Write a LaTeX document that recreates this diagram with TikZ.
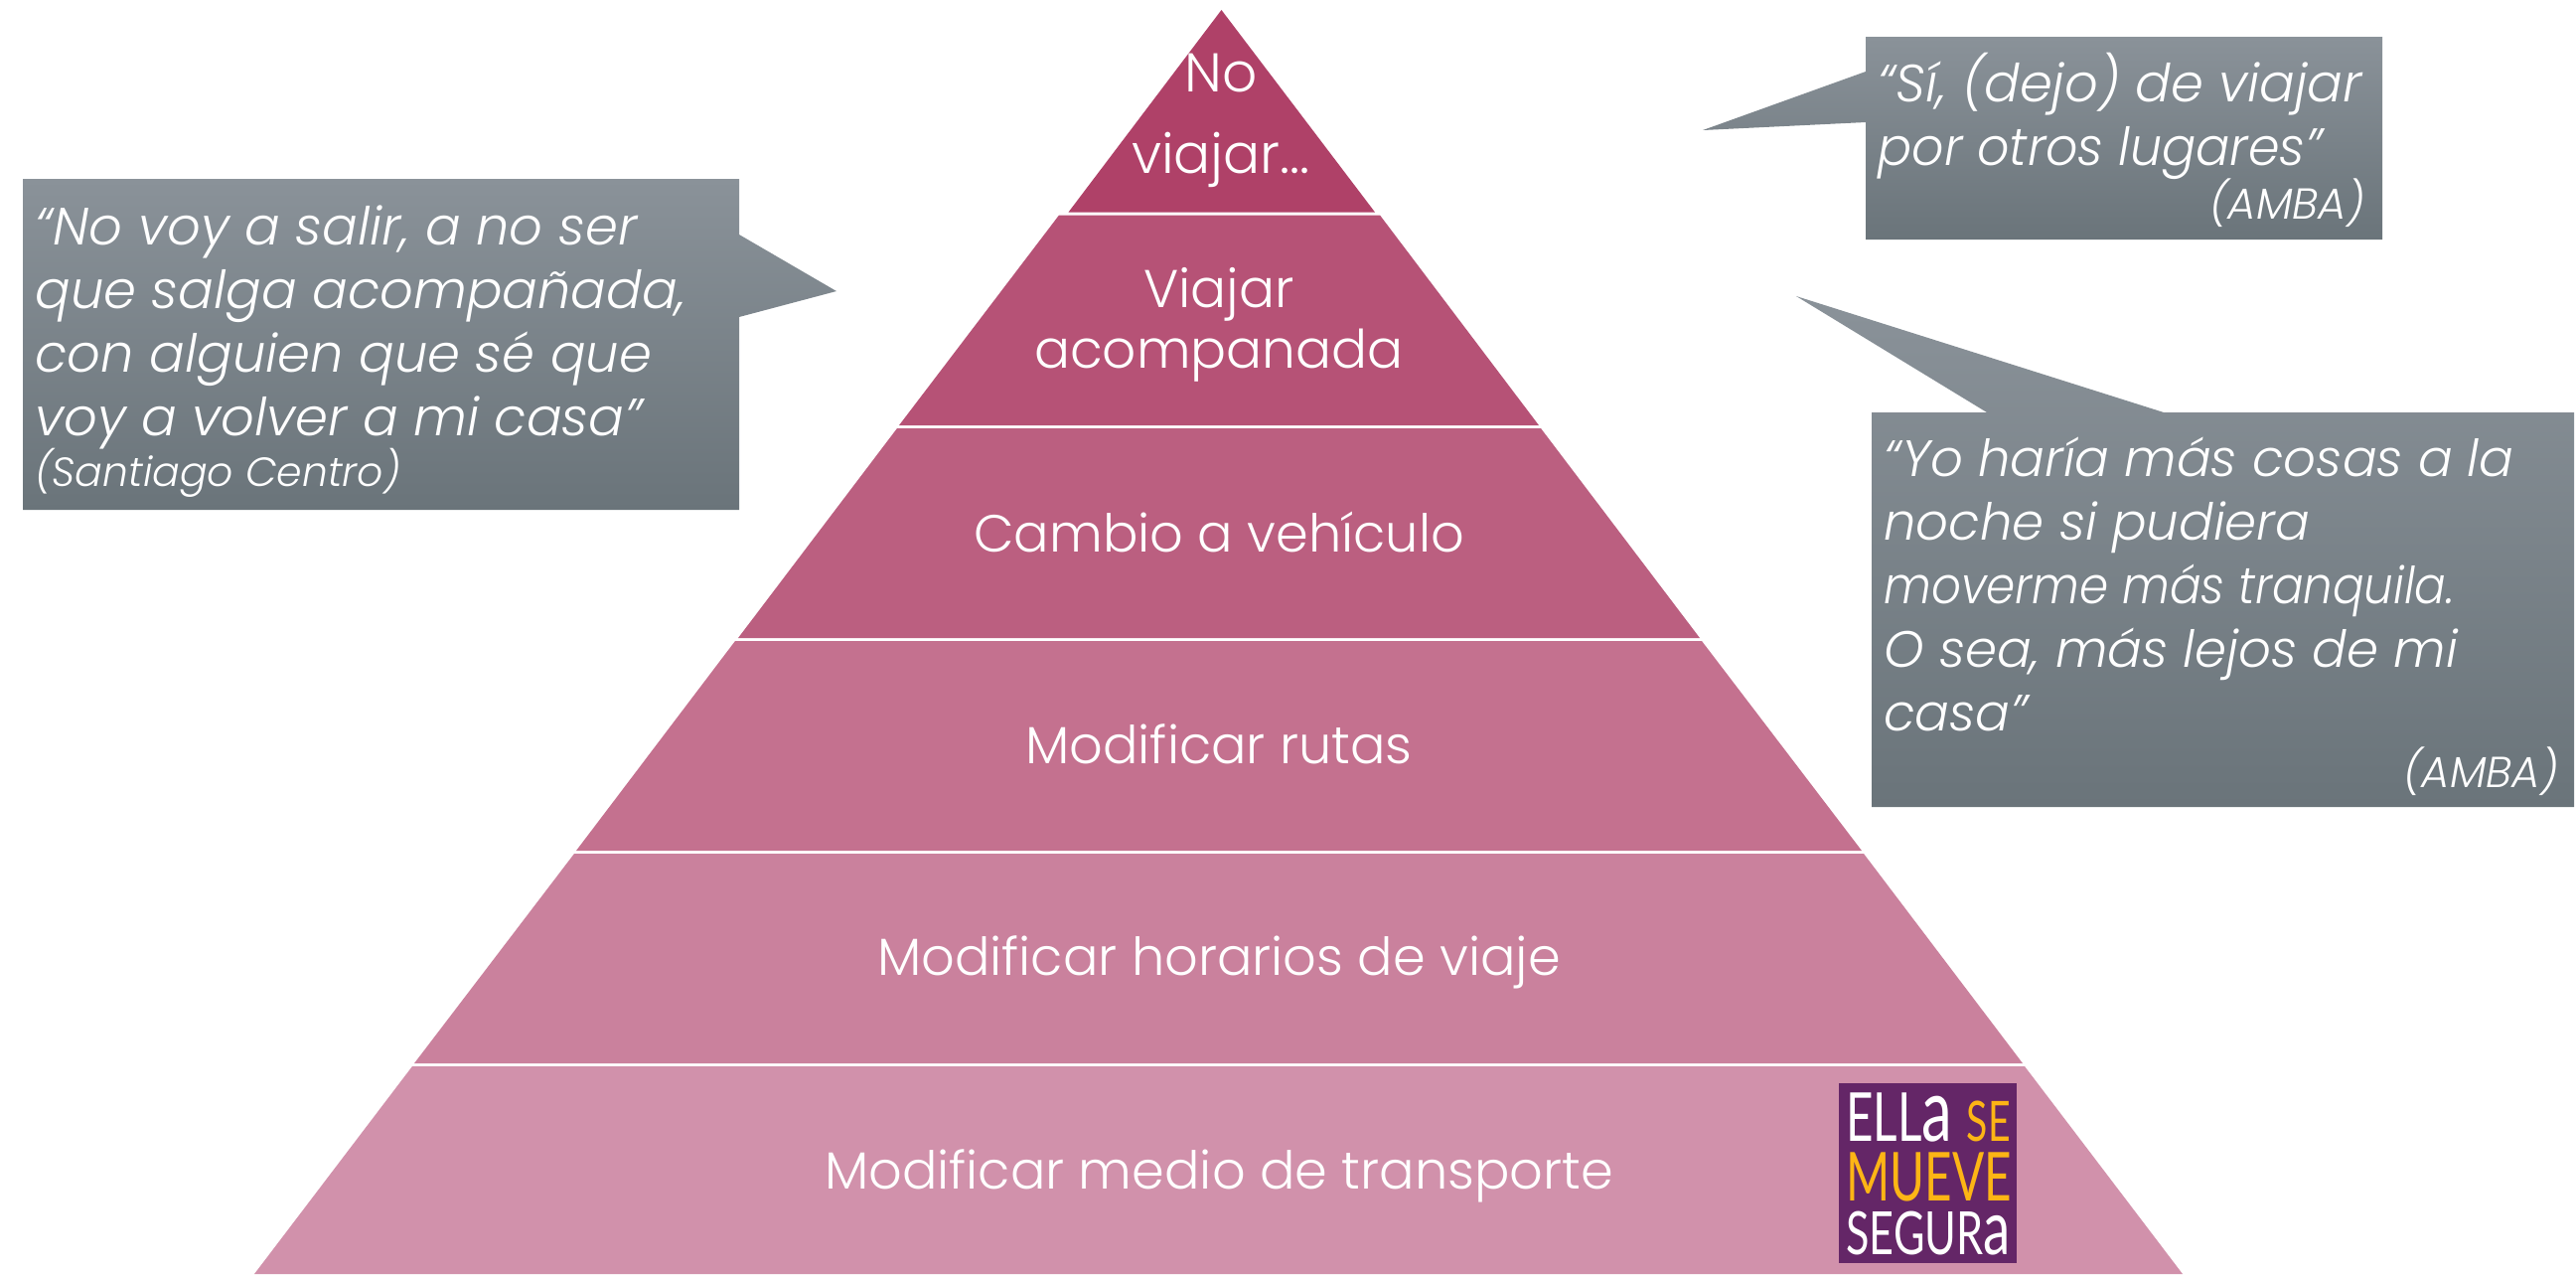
\documentclass[tikz,border=0pt]{standalone}
\usepackage{fontspec}
\setmainfont{Poppins Light}[ItalicFont={Poppins Light Italic}]
\newfontfamily\logofont{Lato}[FakeStretch=0.7]
\newfontfamily\logofontb{Lato}[FakeStretch=0.72]
\newfontfamily\narrowA{Poppins Light}[ItalicFont={Poppins Light Italic},ItalicFeatures={FakeStretch=0.91}]
\newfontfamily\narrowB{Poppins Light}[ItalicFont={Poppins Light Italic},ItalicFeatures={FakeStretch=0.96}]
\tikzset{
  x=0.5pt,y=-0.5pt,
  band/.style={draw=none},
  bandtext/.style={text=white,align=center,inner sep=0pt,font=\fontsize{26.3}{30.5}\selectfont},
  callout/.style={top color=#1,bottom color=calloutbottom,draw=none},
  quotetext/.style={text=white,align=left,inner sep=0pt,anchor=north west,font=\fontsize{26.4}{32}\selectfont\itshape},
  sourcetext/.style={text=white,inner sep=0pt,font=\fontsize{20.5}{24}\selectfont\itshape},
  logotext/.style={inner sep=0pt,anchor=base}
}
\definecolor{calloutbottom}{HTML}{6A747A}
\definecolor{callouttop}{HTML}{8A9299}
\definecolor{logobg}{HTML}{642667}
\definecolor{logoyellow}{HTML}{FDB515}
\begin{document}
\begin{tikzpicture}
\useasboundingbox (0,0) rectangle (2593,1282);
% pyramid bands
\fill[band,fill={rgb,255:red,175;green,65;blue,104}] (1229.5,10) -- (1384,213.5) -- (1075.5,213.5) -- cycle;
\fill[band,fill={rgb,255:red,182;green,82;blue,118}] (1066,216.5) -- (1389,216.5) -- (1549,428) -- (905,428) -- cycle;
\fill[band,fill={rgb,255:red,187;green,95;blue,128}] (903,431) -- (1551,431) -- (1711,642) -- (743,642) -- cycle;
\fill[band,fill={rgb,255:red,196;green,113;blue,143}] (740,645) -- (1713,645) -- (1874,856) -- (580,856) -- cycle;
\fill[band,fill={rgb,255:red,202;green,129;blue,157}] (578,859) -- (1876,859) -- (2036,1070) -- (417,1070) -- cycle;
\fill[band,fill={rgb,255:red,209;green,145;blue,171}] (415,1073) -- (2038,1073) -- (2197,1282) -- (256,1282) -- cycle;
% pyramid labels
\node[bandtext,font=\fontsize{27.5}{41}\selectfont] (l1) at (1229,121) {No\\viajar...};
\node[bandtext,font=\fontsize{26.7}{30.5}\selectfont] (l2) at (1227,327) {Viajar\\acompanada};
\node[bandtext] (l3) at (1227,535) {Cambio a vehículo};
\node[bandtext] (l4) at (1227,749) {Modificar rutas};
\node[bandtext] (l5) at (1227,968) {Modificar horarios de viaje};
\node[bandtext] (l6) at (1227,1183) {Modificar medio de transporte};
% callouts
\shade[callout=callouttop] (23,180) -- (744,180) -- (744,236) -- (842,293) -- (744,319) -- (744,513) -- (23,513) -- cycle;
\shade[callout=callouttop] (1878,37) -- (2398,37) -- (2398,241) -- (1878,241) -- (1878,123) -- (1714,131) -- (1878,72) -- cycle;
\shade[callout=callouttop] (1884,415) -- (2000,415) -- (1808,298) -- (2178,415) -- (2591,415) -- (2591,812) -- (1884,812) -- cycle;
% callout texts
\node[quotetext] (q1) at (35,206) {“No voy a salir, a no ser\\que salga acompañada,\\con alguien que sé que\\voy a volver a mi casa”};
\node[sourcetext,anchor=west] (s1) at (35,476) {(Santiago Centro)};
\node[quotetext] (q2) at (1890,53) {“Sí, (dejo) de viajar\\{\narrowB\itshape por otros lugares”}};
\node[sourcetext,anchor=east,font=\fontsize{21.8}{24}\selectfont\itshape] (s2) at (2381,204) {(AMBA)};
\node[quotetext,font=\fontsize{25.7}{32}\selectfont\itshape] (q3) at (1896,440) {“Yo haría más cosas a la\\noche si pudiera\\{\narrowA\itshape moverme más tranquila.}\\O sea, más lejos de mi\\casa”};
\node[sourcetext,anchor=east,font=\fontsize{21.8}{24}\selectfont\itshape] (s3) at (2576,776) {(AMBA)};
% logo
\fill[logobg] (1851,1090) rectangle (2030,1271);
\node[logotext,text=white,anchor=base west] (e1) at (1858,1148) {\logofont\fontsize{34}{34}\selectfont ELL{\fontsize{44}{44}\selectfont a}};
\node[logotext,text=logoyellow,anchor=base east] (e2) at (2024,1148) {\logofont\fontsize{28}{28}\selectfont SE};
\node[logotext,text=logoyellow,anchor=base west] (e3) at (1858,1208) {\logofont\fontsize{34}{34}\selectfont MUEVE};
\node[logotext,text=white,anchor=base west] (e4) at (1858,1262) {\logofontb\fontsize{30}{30}\selectfont SEGUR{\fontsize{38}{38}\selectfont a}};
\end{tikzpicture}
\end{document}
